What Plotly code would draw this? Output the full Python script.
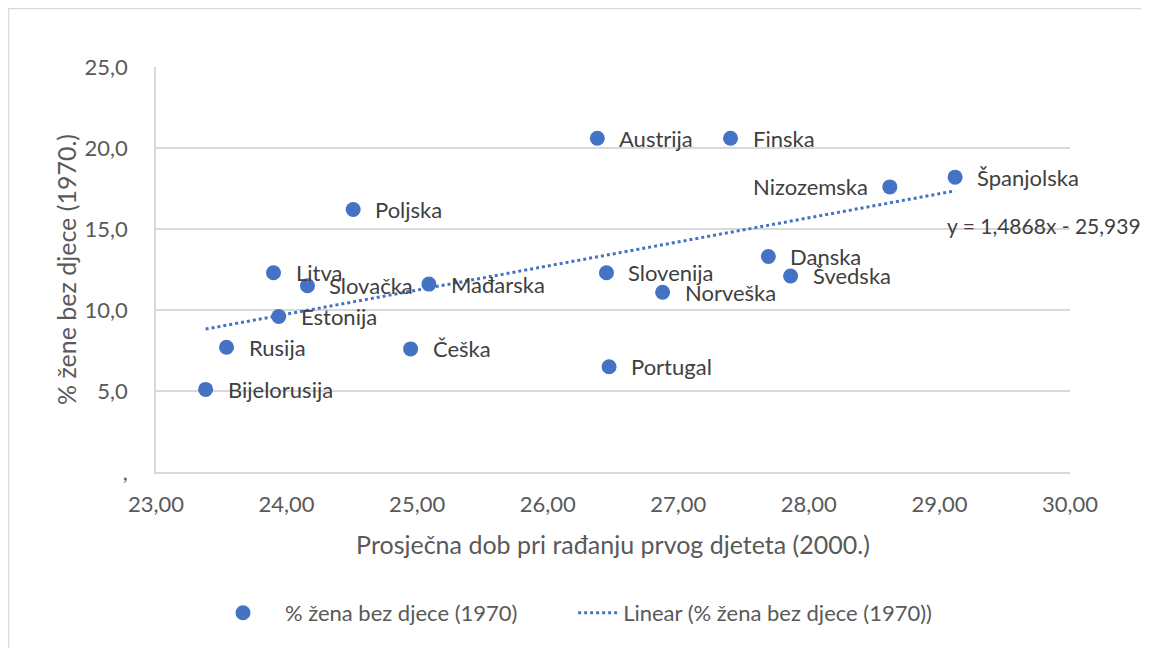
import plotly.graph_objects as go

countries = ["Bijelorusija", "Rusija", "Estonija", "Litva", "Slovačka", "Poljska",
             "Mađarska", "Češka", "Austrija", "Slovenija", "Portugal", "Norveška",
             "Finska", "Danska", "Švedska", "Nizozemska", "Španjolska"]
age_first_child_2000 = [23.38, 23.54, 23.94, 23.90, 24.16, 24.51,
                        25.09, 24.95, 26.38, 26.45, 26.47, 26.88,
                        27.40, 27.69, 27.86, 28.62, 29.12]
childless_1970 = [5.1, 7.7, 9.6, 12.3, 11.5, 16.2,
                  11.6, 7.6, 20.6, 12.3, 6.5, 11.1,
                  20.6, 13.3, 12.1, 17.6, 18.2]
label_sides = ["right"] * 15 + ["left", "right"]

trend_slope = 1.4868
trend_intercept = -25.939
trend_label = "y = 1,4868x - 25,939"

y_tickvals = [0, 5, 10, 15, 20, 25]
y_ticktext = [",", "5,0", "10,0", "15,0", "20,0", "25,0"]
x_tickvals = [23, 24, 25, 26, 27, 28, 29, 30]

BLUE = "#4472C4"
FONT = "Lato"
NB = "\u00a0"

fig = go.Figure()
fig.add_trace(go.Scatter(
    x=age_first_child_2000, y=childless_1970, mode="markers",
    marker=dict(color=BLUE, size=15),
    name=NB * 3 + "% žena bez djece (1970)" + NB * 9, cliponaxis=False,
))
xmin, xmax = min(age_first_child_2000), max(age_first_child_2000)
fig.add_trace(go.Scatter(
    x=[xmin, xmax],
    y=[trend_slope * xmin + trend_intercept, trend_slope * xmax + trend_intercept],
    mode="lines", line=dict(color=BLUE, width=3, dash="dot"),
    name="Linear (% žena bez djece (1970))",
))

for name, xv, yv, side in zip(countries, age_first_child_2000, childless_1970, label_sides):
    fig.add_annotation(
        x=xv, y=yv, text=name, showarrow=False,
        xanchor="left" if side == "right" else "right", yanchor="middle",
        xshift=20 if side == "right" else -20,
        font=dict(family=FONT, size=22, color="#404040"),
    )

fig.add_annotation(x=29.80, y=15.2, text=trend_label, showarrow=False,
                   font=dict(family=FONT, size=21, color="#404040"),
                   xanchor="center", yanchor="middle")

# outer chart frame (extends beyond the visible page to the right/bottom)
fig.add_shape(type="rect", xref="paper", yref="paper",
              x0=(8.5 - 156) / 914, x1=1.3, y0=-0.7, y1=(472 - 8.5) / 405,
              line=dict(color="#D9D9D9", width=1.5), fillcolor="rgba(0,0,0,0)",
              layer="below")

fig.update_layout(
    width=1141, height=640,
    margin=dict(l=148, r=79, t=59, b=176),
    paper_bgcolor="white", plot_bgcolor="white",
    separators=", ",
    font=dict(family=FONT, color="#595959"),
    showlegend=True,
    legend=dict(orientation="h", x=(218 - 156) / 914, xanchor="left",
                y=(472 - 613) / 405, yanchor="middle",
                font=dict(family=FONT, size=22, color="#595959"),
                itemwidth=40, traceorder="normal"),
)
fig.update_xaxes(
    range=[23, 30], tickvals=x_tickvals, tickformat=".2f",
    showgrid=False, showline=True, linecolor="#D9D9D9", linewidth=1.5,
    zeroline=False, ticks="outside", ticklen=12, tickcolor="rgba(0,0,0,0)",
    tickfont=dict(family=FONT, size=22, color="#595959"),
    title=dict(text="Prosječna dob pri rađanju prvog djeteta (2000.)",
               font=dict(family=FONT, size=25, color="#595959"), standoff=20),
)
fig.update_yaxes(
    range=[0, 25], tickvals=y_tickvals, ticktext=y_ticktext,
    showgrid=True, gridcolor="#D9D9D9", gridwidth=1.5,
    showline=True, linecolor="#D9D9D9", linewidth=1.5,
    zeroline=False, ticks="outside", ticklen=22, tickcolor="rgba(0,0,0,0)",
    tickfont=dict(family=FONT, size=22, color="#595959"),
    title=dict(text="% žene bez djece (1970.)",
               font=dict(family=FONT, size=25, color="#595959"), standoff=1),
)

fig.write_html("out.html")
